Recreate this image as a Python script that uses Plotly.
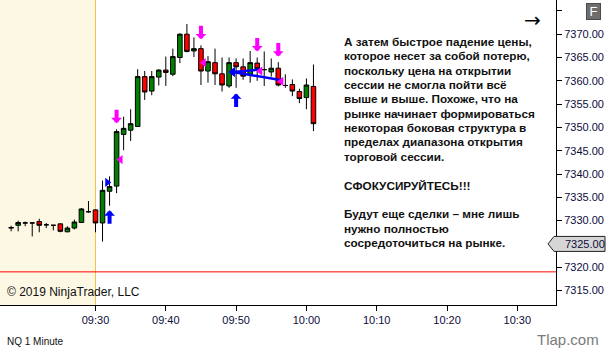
import plotly.graph_objects as go

# ---------------- data ----------------
times = ["09:18", "09:19", "09:20", "09:21", "09:22", "09:23", "09:24", "09:25", "09:26", "09:27",
         "09:28", "09:29", "09:30", "09:31", "09:32", "09:33", "09:34", "09:35", "09:36", "09:37",
         "09:38", "09:39", "09:40", "09:41", "09:42", "09:43", "09:44", "09:45", "09:46", "09:47",
         "09:48", "09:49", "09:50", "09:51", "09:52", "09:53", "09:54", "09:55", "09:56", "09:57",
         "09:58", "09:59", "10:00", "10:01"]
opens = [7328.4, 7329.0, 7329.5, 7329.5, 7329.8, 7329.1, 7329.0, 7329.3, 7327.6, 7328.4,
         7329.6, 7331.9, 7332.3, 7329.5, 7336.3, 7337.4, 7348.5, 7349.4, 7350.2, 7360.9,
         7357.8, 7360.8, 7362.3, 7361.4, 7365.0, 7370.0, 7366.4, 7366.9, 7362.1, 7363.9,
         7361.5, 7358.9, 7363.9, 7363.0, 7361.4, 7363.8, 7362.4, 7361.9, 7362.7, 7359.0,
         7359.2, 7357.7, 7356.4, 7358.8]
highs = [7328.9, 7330.0, 7329.8, 7329.6, 7330.4, 7329.5, 7329.0, 7329.4, 7328.8, 7330.2,
         7332.7, 7334.2, 7332.4, 7338.6, 7339.5, 7349.6, 7352.3, 7353.9, 7362.5, 7362.1,
         7362.1, 7362.5, 7365.2, 7366.9, 7370.2, 7372.2, 7369.3, 7367.6, 7365.3, 7366.9,
         7365.0, 7365.0, 7364.8, 7364.8, 7366.4, 7365.0, 7366.3, 7364.8, 7364.0, 7361.4,
         7360.3, 7358.3, 7360.5, 7363.5]
lows = [7327.7, 7327.7, 7328.8, 7326.6, 7327.5, 7328.4, 7327.9, 7327.5, 7327.5, 7328.1,
        7329.5, 7331.7, 7327.5, 7325.5, 7333.2, 7335.9, 7345.1, 7347.1, 7350.1, 7355.9,
        7356.9, 7359.0, 7358.9, 7361.0, 7363.8, 7366.1, 7365.1, 7359.1, 7359.6, 7359.1,
        7357.7, 7358.5, 7358.5, 7360.2, 7359.6, 7360.0, 7358.9, 7360.9, 7358.8, 7358.5,
        7356.7, 7355.2, 7353.9, 7349.2]
closes = [7328.5, 7329.6, 7329.5, 7329.5, 7329.0, 7329.1, 7329.0, 7327.7, 7328.4, 7329.7,
          7332.5, 7331.9, 7329.5, 7336.5, 7337.3, 7349.1, 7349.8, 7350.8, 7360.9, 7357.6,
          7360.9, 7362.3, 7361.8, 7365.2, 7370.0, 7366.3, 7366.9, 7362.1, 7364.1, 7361.5,
          7359.1, 7363.9, 7363.0, 7361.0, 7363.9, 7362.6, 7362.4, 7362.7, 7359.1, 7359.0,
          7357.8, 7356.2, 7359.1, 7350.8]

# signal arrows (time, tip price)
sell_arrow_times = ["09:33", "09:45", "09:53", "09:56"]
sell_arrow_prices = [7350.9, 7368.9, 7366.3, 7365.2]
buy_arrow_times = ["09:32", "09:50"]
buy_arrow_prices = [7332.2, 7357.3]

# exit markers (magenta, left-pointing)
exit_times = ["09:33:34", "09:45:24", "09:53:26", "09:56:26"]
exit_prices = [7343.1, 7363.9, 7362.1, 7359.9]
# entry markers
entry_long_times = ["09:31:40"]
entry_long_prices = [7338.2]
entry_short_times = ["09:49:32"]
entry_short_prices = [7361.9]

# trade connection lines (blue)
trade_start_time = "09:49:32"
trade_start_price = 7361.9
trade_end_times = ["09:53:18", "09:56:30"]
trade_end_prices = [7362.4, 7360.1]

session_open = "09:30"
level_line = 7319.0
last_price = 7325.0

x_ticks = ["09:30", "09:40", "09:50", "10:00", "10:10", "10:20", "10:30"]
y_ticks = [7315, 7320, 7325, 7330, 7335, 7340, 7345, 7350, 7355, 7360, 7365, 7370, 7375]
y_hidden_labels = [7375, 7325]
x_start = "09:16:25"
x_end = "10:35:30"
y_min, y_max = 7311.89, 7377.34

text_lines = [
    "А затем быстрое падение цены,",
    "которое несет за собой потерю,",
    "поскольку цена на открытии",
    "сессии не смогла пойти всё",
    "выше и выше. Похоже, что на",
    "рынке начинает формироваться",
    "некоторая боковая структура в",
    "пределах диапазона открытия",
    "торговой сессии.",
    "",
    "СФОКУСИРУЙТЕСЬ!!!",
    "",
    "Будут еще сделки – мне лишь",
    "нужно полностью",
    "сосредоточиться на рынке.",
]

DAY = "2019-01-02 "
def T(s):
    return DAY + (s if s.count(":") == 2 else s + ":00")

# ---------------- layout constants (pixels) ----------------
W, H = 607, 352
PL, PR, PT, PB = 0, 51, 0, 47
PW, PH = W - PL - PR, H - PT - PB

def px(x):
    return (x - PL) / PW

def py(y):
    return 1 - (y - PT) / PH

FONT = "Arial, Liberation Sans, sans-serif"
AXIS_COLOR = "#0c0c3c"

fig = go.Figure()

fig.add_trace(go.Candlestick(
    x=[T(t) for t in times], open=opens, high=highs, low=lows, close=closes,
    increasing=dict(line=dict(color="black", width=1), fillcolor="#008000"),
    decreasing=dict(line=dict(color="black", width=1), fillcolor="#ff0000"),
    whiskerwidth=0, showlegend=False, hoverinfo="skip",
))

# trade lines
for et, ep in zip(trade_end_times, trade_end_prices):
    fig.add_trace(go.Scatter(
        x=[T(trade_start_time), T(et)], y=[trade_start_price, ep], mode="lines",
        line=dict(color="#0000ff", width=2.5), showlegend=False, hoverinfo="skip"))

fig.add_trace(go.Scatter(
    x=[T(t) for t in exit_times], y=exit_prices, mode="markers",
    marker=dict(symbol="triangle-left", size=8, color="#ff00ff", line=dict(width=0)),
    showlegend=False, hoverinfo="skip"))
fig.add_trace(go.Scatter(
    x=[T(t) for t in entry_long_times], y=entry_long_prices, mode="markers",
    marker=dict(symbol="triangle-right", size=8, color="#0000ff", line=dict(width=0)),
    showlegend=False, hoverinfo="skip"))
fig.add_trace(go.Scatter(
    x=[T(t) for t in entry_short_times], y=entry_short_prices, mode="markers",
    marker=dict(symbol="triangle-left", size=9, color="#0000ff", line=dict(width=0)),
    showlegend=False, hoverinfo="skip"))

annotations = []
for t, p in zip(sell_arrow_times, sell_arrow_prices):
    annotations.append(dict(x=T(t), y=p, xref="x", yref="y", text="", showarrow=True,
                            ax=0, ay=-15, arrowhead=1, arrowsize=0.45, arrowwidth=4,
                            arrowcolor="#ff00ff", standoff=0))
for t, p in zip(buy_arrow_times, buy_arrow_prices):
    annotations.append(dict(x=T(t), y=p, xref="x", yref="y", text="", showarrow=True,
                            ax=0, ay=15, arrowhead=1, arrowsize=0.45, arrowwidth=4,
                            arrowcolor="#0000ff", standoff=0))

# commentary text
line_h = 14.35
for i, line in enumerate(text_lines):
    if not line:
        continue
    annotations.append(dict(x=px(341.5), y=py(41.5 + i * line_h), xref="paper", yref="paper",
                            xanchor="left", yanchor="middle", showarrow=False,
                            text="<b>" + line + "</b>",
                            font=dict(family=FONT, size=11.75, color="#111111")))

annotations += [
    dict(x=px(5), y=py(292), xref="paper", yref="paper", xanchor="left", yanchor="middle",
         showarrow=False, text="© 2019 NinjaTrader, LLC",
         font=dict(family=FONT, size=12, color="#111111")),
    dict(x=px(5), y=py(341), xref="paper", yref="paper", xanchor="left", yanchor="middle",
         showarrow=False, text="NQ 1 Minute", font=dict(family=FONT, size=10, color="#111111")),
    dict(x=px(601), y=py(340), xref="paper", yref="paper", xanchor="right", yanchor="middle",
         showarrow=False, text="Tlap.com", font=dict(family=FONT, size=15, color="#7a7a7a")),
    dict(x=px(532), y=py(20), xref="paper", yref="paper", xanchor="center", yanchor="middle",
         showarrow=False, text="→", font=dict(family="DejaVu Sans", size=20, color="#000000")),
    dict(x=px(593.5), y=py(12), xref="paper", yref="paper", xanchor="center", yanchor="middle",
         showarrow=False, text="F", font=dict(family=FONT, size=13, color="#ffffff"),
         bgcolor="#6e6e6e", bordercolor="#4a4a4a", borderwidth=1, width=13, height=15, borderpad=0),
    dict(x=1, y=last_price, xref="paper", yref="y", xanchor="left", yanchor="middle",
         xshift=7, showarrow=False, text=f"{last_price:.2f}",
         font=dict(family=FONT, size=11, color=AXIS_COLOR)),
]

shapes = [
    dict(type="rect", xref="x", yref="paper", x0=T(x_start), x1=T(session_open), y0=0, y1=1,
         fillcolor="#fdf8e4", line=dict(width=0), layer="below"),
    dict(type="line", xref="x", yref="paper", x0=T(session_open), x1=T(session_open), y0=0, y1=1,
         line=dict(color="#f3c544", width=1), layer="below"),
    dict(type="line", xref="paper", yref="y", x0=0, x1=1, y0=level_line, y1=level_line,
         line=dict(color="#ff0000", width=1), layer="below"),
    dict(type="path", xref="paper", yref="y", xsizemode="pixel", ysizemode="pixel",
         xanchor=1, yanchor=last_price,
         path="M -8 0 L -2 7.5 L 49 7.5 L 49 -7.5 L -2 -7.5 Z",
         fillcolor="#d6d6d6", line=dict(color="#222222", width=1), layer="above"),
]

fig.update_layout(
    width=W, height=H, margin=dict(l=PL, r=PR, t=PT, b=PB, pad=0),
    paper_bgcolor="white", plot_bgcolor="white",
    showlegend=False, boxgap=0.35, boxgroupgap=0,
    annotations=annotations, shapes=shapes,
    xaxis=dict(type="date", range=[T(x_start), T(x_end)], rangeslider=dict(visible=False),
               tickvals=[T(t) for t in x_ticks], ticktext=x_ticks,
               showgrid=False, zeroline=False, showline=True, linecolor="black", linewidth=1,
               ticks="outside", ticklen=5, tickcolor="black",
               tickfont=dict(family=FONT, size=11, color=AXIS_COLOR)),
    yaxis=dict(side="right", range=[y_min, y_max],
               tickvals=y_ticks,
               ticktext=[("" if v in y_hidden_labels else f"{v:.2f}") for v in y_ticks],
               showgrid=False, zeroline=False, showline=True, linecolor="black", linewidth=1,
               ticks="outside", ticklen=5, tickcolor="black",
               tickfont=dict(family=FONT, size=11, color=AXIS_COLOR)),
)

fig.write_html("out.html")
